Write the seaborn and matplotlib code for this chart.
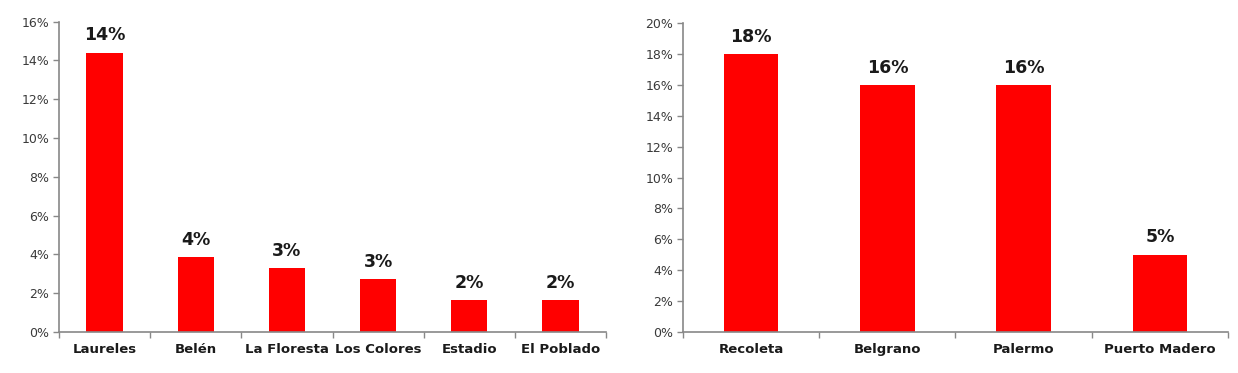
import matplotlib
matplotlib.use("Agg")
import matplotlib.pyplot as plt
import seaborn as sns
import pandas as pd
from matplotlib.ticker import PercentFormatter, FixedLocator

# left chart: Medellin neighbourhoods
med_names = ["Laureles", "Belén", "La Floresta", "Los Colores", "Estadio", "El Poblado"]
med_values = [14.4, 3.84, 3.3, 2.71, 1.64, 1.64]

# right chart: Buenos Aires neighbourhoods
ba_names = ["Recoleta", "Belgrano", "Palermo", "Puerto Madero"]
ba_values = [18, 16, 16, 5]

sns.set_style("white")
plt.rcParams["font.family"] = ["DejaVu Sans"]

grey = "#888888"
text_col = "#3a3a3a"

fig = plt.figure(figsize=(12.38, 3.73), dpi=100)
ax1 = fig.add_axes([0.0477, 0.110, 0.4418, 0.832])
ax2 = fig.add_axes([0.5517, 0.110, 0.4402, 0.8276])


def draw(ax, names, values, ymax, step):
    df = pd.DataFrame({"barrio": names, "pct": values})
    sns.barplot(data=df, x="barrio", y="pct", color="#ff0000", saturation=1,
                width=0.4, ax=ax, edgecolor="none")
    ax.set_ylim(0, ymax)
    ax.set_xlim(-0.5, len(names) - 0.5)
    ax.yaxis.set_major_locator(FixedLocator(list(range(0, ymax + 1, step))))
    ax.yaxis.set_major_formatter(PercentFormatter(decimals=0))
    ax.set_xlabel("")
    ax.set_ylabel("")
    for s in ["top", "right"]:
        ax.spines[s].set_visible(False)
    for s in ["left", "bottom"]:
        ax.spines[s].set_color(grey)
        ax.spines[s].set_linewidth(1.2)
    ax.tick_params(axis="y", length=4, width=1, color=grey, direction="out",
                   labelsize=9, labelcolor=text_col, pad=3, left=True)
    ax.tick_params(axis="x", which="major", length=0, labelsize=9.5, pad=8)
    ax.set_xticks([i - 0.5 for i in range(len(names) + 1)], minor=True)
    ax.tick_params(axis="x", which="minor", length=4, width=1, color=grey,
                   direction="out", bottom=True)
    for lab in ax.get_xticklabels():
        lab.set_fontweight("bold")
        lab.set_color("#1a1a1a")
    ax.bar_label(ax.containers[0], labels=[f"{round(v):.0f}%" for v in values],
                 padding=6, fontsize=12.5, fontweight="bold", color="#1a1a1a")


draw(ax1, med_names, med_values, 16, 2)
draw(ax2, ba_names, ba_values, 20, 2)

fig.savefig("out.png", dpi=100)
